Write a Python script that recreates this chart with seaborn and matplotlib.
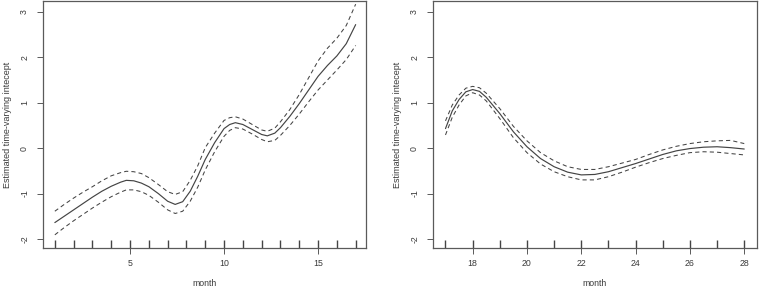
import pandas as pd
import matplotlib
matplotlib.use('Agg')
import matplotlib.pyplot as plt
import seaborn as sns

# left panel: months 1-17
month_a = [1, 1.5, 2, 2.5, 3, 3.5, 4, 4.5, 4.8, 5.2, 5.6, 6, 6.5, 7, 7.4, 7.8, 8.2, 8.6, 9, 9.5,
           10, 10.3, 10.6, 11, 11.5, 12, 12.3, 12.7, 13, 13.5, 14, 14.5, 15, 15.5, 16, 16.5, 17]
fit_a = [-1.64, -1.50, -1.36, -1.22, -1.08, -0.95, -0.84, -0.75, -0.71, -0.72, -0.77, -0.85, -1.00,
         -1.17, -1.24, -1.18, -0.95, -0.62, -0.25, 0.12, 0.43, 0.52, 0.56, 0.52, 0.41, 0.30, 0.27,
         0.33, 0.45, 0.70, 0.98, 1.28, 1.58, 1.82, 2.03, 2.30, 2.72]
upper_a = [-1.39, -1.24, -1.10, -0.97, -0.85, -0.72, -0.61, -0.54, -0.51, -0.52, -0.56, -0.65, -0.80,
           -0.96, -1.02, -0.96, -0.71, -0.39, 0.01, 0.33, 0.61, 0.67, 0.69, 0.64, 0.52, 0.40, 0.37,
           0.44, 0.58, 0.85, 1.18, 1.55, 1.92, 2.20, 2.42, 2.70, 3.17]
lower_a = [-1.91, -1.75, -1.60, -1.46, -1.32, -1.19, -1.07, -0.97, -0.92, -0.92, -0.96, -1.04, -1.19,
           -1.36, -1.44, -1.39, -1.17, -0.86, -0.48, -0.08, 0.26, 0.39, 0.45, 0.42, 0.31, 0.19, 0.14,
           0.17, 0.28, 0.50, 0.75, 1.02, 1.28, 1.50, 1.72, 1.95, 2.26]

# right panel: months 17-28
month_b = [17, 17.25, 17.5, 17.75, 18, 18.25, 18.5, 19, 19.5, 20, 20.5, 21, 21.5, 22, 22.5, 23,
           23.5, 24, 24.5, 25, 25.5, 26, 26.5, 27, 27.5, 28]
fit_b = [0.43, 0.82, 1.07, 1.24, 1.29, 1.25, 1.12, 0.76, 0.36, 0.03, -0.23, -0.41, -0.53, -0.59,
         -0.58, -0.52, -0.43, -0.34, -0.24, -0.14, -0.06, -0.01, 0.02, 0.03, 0.01, -0.02]
upper_b = [0.60, 0.95, 1.17, 1.32, 1.36, 1.33, 1.21, 0.87, 0.48, 0.16, -0.10, -0.28, -0.41, -0.47,
           -0.47, -0.41, -0.33, -0.25, -0.14, -0.04, 0.04, 0.10, 0.14, 0.16, 0.17, 0.10]
lower_b = [0.29, 0.68, 0.95, 1.15, 1.22, 1.17, 1.04, 0.65, 0.23, -0.10, -0.35, -0.52, -0.63, -0.70,
           -0.70, -0.63, -0.53, -0.42, -0.32, -0.23, -0.16, -0.10, -0.08, -0.09, -0.12, -0.15]

rug_a = list(range(1, 18))
rug_b = list(range(17, 29))

sns.set_style('white')
plt.rcParams['font.family'] = ['Liberation Sans', 'DejaVu Sans']

fig = plt.figure(figsize=(7.6, 2.94), dpi=100)
W, H = 760, 294
ax1 = fig.add_axes([43 / W, (H - 248) / H, (366 - 43) / W, 247 / H])
ax2 = fig.add_axes([433 / W, (H - 248) / H, (757 - 433) / W, 247 / H])

line_col = '#444444'
box_col = '#5a5a5a'
text_col = '#3a3a3a'


def draw(ax, months, fit, upper, lower, rug, xlim, xticks):
    df = pd.DataFrame({'month': months, 'fit': fit, 'upper': upper, 'lower': lower})
    sns.lineplot(data=df, x='month', y='fit', ax=ax, color=line_col, lw=0.85)
    sns.lineplot(data=df, x='month', y='upper', ax=ax, color=line_col, lw=0.75, linestyle=(0, (4, 3)))
    sns.lineplot(data=df, x='month', y='lower', ax=ax, color=line_col, lw=0.75, linestyle=(0, (4, 3)))
    sns.rugplot(x=rug, ax=ax, height=0.033, color='#444444', lw=0.8)
    ax.set_xlim(*xlim)
    ax.set_ylim(-2.2, 3.24)
    ax.set_xticks(xticks)
    ax.set_yticks([-2, -1, 0, 1, 2, 3])
    ax.set_yticklabels(['-2', '-1', '0', '1', '2', '3'], rotation=90, va='center')
    ax.tick_params(axis='both', direction='out', length=4, width=0.7, color=box_col,
                   labelsize=6.3, labelcolor=text_col, bottom=True, left=True, pad=4)
    ax.tick_params(axis='y', pad=6)
    for s in ax.spines.values():
        s.set_visible(True)
        s.set_color(box_col)
        s.set_linewidth(0.9)
    ax.set_xlabel('month', fontsize=6.3, color=text_col, labelpad=8)
    ax.set_ylabel('Estimated time-varying intecept', fontsize=6.5, color=text_col, labelpad=6)
    ax.grid(False)


draw(ax1, month_a, fit_a, upper_a, lower_a, rug_a, (0.37, 17.55), [5, 10, 15])
draw(ax2, month_b, fit_b, upper_b, lower_b, rug_b, (16.54, 28.47), [18, 20, 22, 24, 26, 28])

fig.savefig('out.png', dpi=100)
